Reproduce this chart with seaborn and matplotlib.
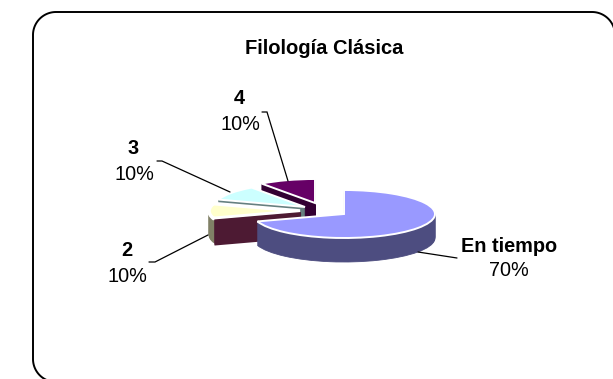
import matplotlib
matplotlib.use("Agg")
import matplotlib.pyplot as plt
import numpy as np
import seaborn as sns

# Data
categories = ["En tiempo", "1", "2", "3", "4"]
values = [70, 0, 10, 10, 10]
shown_labels = ["En tiempo", None, "2", "3", "4"]
percent_labels = ["70%", None, "10%", "10%", "10%"]
title = "Filología Clásica"

# Styles
top_colors = ["#9999FF", "#993366", "#FFFFCC", "#CCFFFF", "#660066"]
side_colors = ["#4D4D80", "#4D1A33", "#808066", "#668080", "#330033"]
stack_rank = [5, 4, 3, 2, 1]
W, H = 613, 379
RX, RY, DEPTH = 91, 24, 24
CX, CY = 344, 214
# explosion of each slice's apex on screen, pixels
slice_apex = [(344, 214), (301, 213), (300, 211), (305, 207), (315, 203)]

sns.set_theme(style="white")
plt.rcParams["font.family"] = ["Liberation Sans", "DejaVu Sans"]

fig = plt.figure(figsize=(W / 100, H / 100), dpi=100, facecolor="white")
ax = fig.add_axes([0, 0, 1, 1])


def draw_layer(drop, colors, edges, widths, offset):
    wedges, _ = ax.pie(values, startangle=90, counterclock=False, colors=colors,
                       normalize=True, frame=True)
    for i, w in enumerate(wedges):
        ax_x = (slice_apex[i][0] - CX) / RX
        ax_y = -(slice_apex[i][1] + drop - CY) / RY
        w.set_center((ax_x, ax_y))
        w.set_edgecolor(edges[i])
        w.set_linewidth(widths[i])
        w.set_zorder(stack_rank[i] + offset)


for d in range(DEPTH, 0, -1):
    draw_layer(d, side_colors, side_colors, [0.6, 1.6, 0.6, 0.6, 0.6], 0.0)
draw_layer(0, top_colors,
           ["white", "#4D1A33", "white", "white", "white"],
           [1.4, 1.4, 2.6, 1.4, 1.4], 0.5)

ax.set_aspect("auto")
ax.set_xlim(-CX / RX, (W - CX) / RX)
ax.set_ylim(-(H - CY) / RY, CY / RY)
ax.set_axis_off()

# Overlay in image pixels: frame, title, labels, leaders
ov = fig.add_axes([0, 0, 1, 1], facecolor="none")
ov.set_xlim(0, W)
ov.set_ylim(H, 0)
ov.set_axis_off()

R = 23
left, top, right, bottom = 33, 12, 615, 382


def corner(cx, cy, a0, a1):
    t = np.radians(np.linspace(a0, a1, 30))
    return cx + R * np.cos(t), cy + R * np.sin(t)


parts = [corner(left + R, bottom - R, 90, 180),
         corner(left + R, top + R, 180, 270),
         corner(right - R, top + R, 270, 360)]
fx = np.concatenate([p[0] for p in parts])
fy = np.concatenate([p[1] for p in parts])
ov.plot(fx, fy, color="black", lw=1.4)

ov.text(324, 49, title, fontsize=14.5, fontweight="bold", color="black",
        ha="center", va="center")

label_pos = {0: (509, 246, 509, 271), 2: (127, 250, 127, 276),
             3: (133, 149, 134, 175), 4: (239, 99, 240, 125)}
for i, (xb, yb, xp, yp) in label_pos.items():
    ov.text(xb, yb, shown_labels[i], fontsize=14.3, fontweight="bold", color="black",
            ha="center", va="center")
    ov.text(xp, yp, percent_labels[i], fontsize=14.3, color="black",
            ha="center", va="center")

leaders = [[(418, 252), (457, 258)],
           [(149, 262), (155, 262), (208, 235)],
           [(157, 161), (162, 161), (230, 192)],
           [(262, 112), (267, 112), (288, 181)]]
for pts in leaders:
    xs, ys = zip(*pts)
    ov.plot(xs, ys, color="black", lw=0.9, solid_joinstyle="miter")

fig.savefig("out.png", dpi=100, facecolor="white")
